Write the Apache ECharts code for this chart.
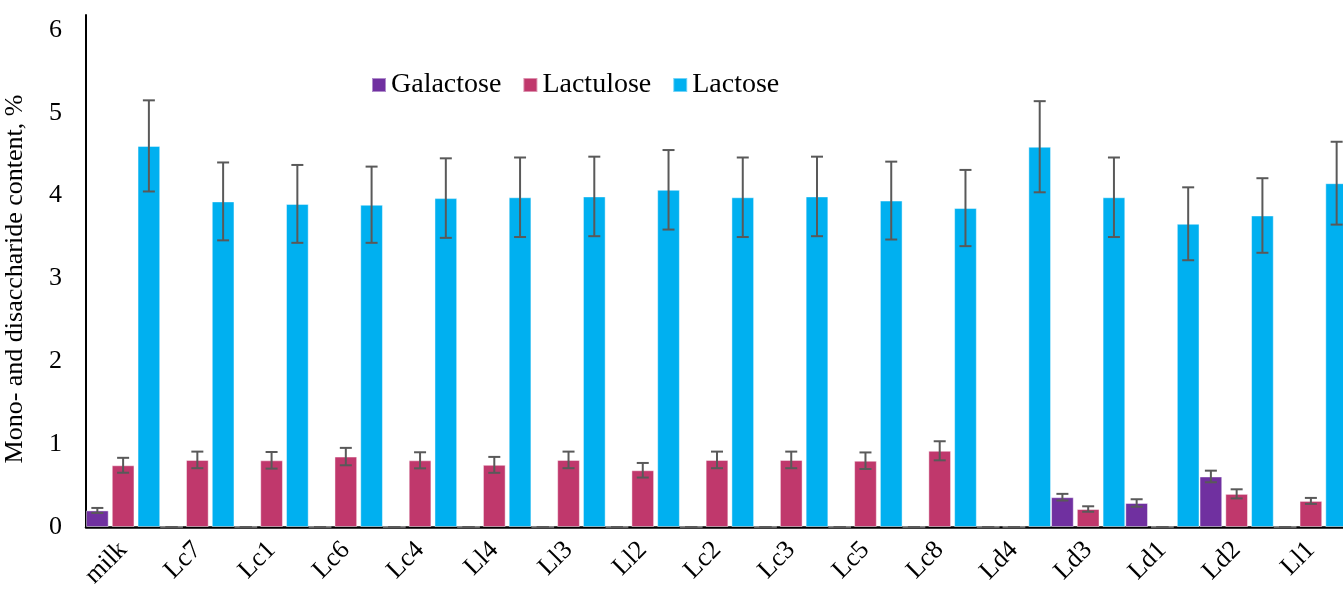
<!DOCTYPE html>
<html>
<head>
<meta charset="utf-8">
<script src="https://cdn.jsdelivr.net/npm/echarts@6/dist/echarts.min.js"></script>
<style>
  html, body { margin: 0; padding: 0; background: #fff; }
  #chart { width: 1343px; height: 592px; }
</style>
</head>
<body>
<div id="chart"></div>
<script>
const categories = ['milk', 'Lc7', 'Lc1', 'Lc6', 'Lc4', 'Ll4', 'Ll3', 'Ll2', 'Lc2', 'Lc3', 'Lc5', 'Lc8', 'Ld4', 'Ld3', 'Ld1', 'Ld2', 'Ll1']

const galactose = [0.20, 0, 0, 0, 0, 0, 0, 0, 0, 0, 0, 0, 0, 0.36, 0.29, 0.61, 0]
const galactoseErr = [0.03, 0, 0, 0, 0, 0, 0, 0, 0, 0, 0, 0, 0, 0.04, 0.045, 0.07, 0]

const lactulose = [0.745, 0.81, 0.805, 0.85, 0.805, 0.75, 0.81, 0.685, 0.81, 0.81, 0.80, 0.92, 0, 0.217, 0, 0.40, 0.315]
const lactuloseErr = [0.09, 0.10, 0.10, 0.105, 0.097, 0.096, 0.10, 0.088, 0.10, 0.10, 0.10, 0.115, 0, 0.033, 0, 0.055, 0.036]

const lactose = [4.60, 3.93, 3.90, 3.89, 3.97, 3.98, 3.99, 4.07, 3.98, 3.99, 3.94, 3.85, 4.59, 3.98, 3.66, 3.76, 4.15]
const lactoseErr = [0.55, 0.47, 0.47, 0.46, 0.48, 0.48, 0.48, 0.48, 0.48, 0.48, 0.47, 0.46, 0.55, 0.48, 0.44, 0.45, 0.50]

const seriesNames = ['Galactose', 'Lactulose', 'Lactose']
const seriesColors = ['#7030A0', '#C0386C', '#00B0F0']
const seriesValues = [galactose, lactulose, lactose]
const seriesErrors = [galactoseErr, lactuloseErr, lactoseErr]

const FONT = '"Liberation Serif", "Times New Roman", serif'
const BAR_RATIO = 0.3058   // bar width / category band
const GAP_RATIO = 0.135    // gap between bars / bar width

const chart = echarts.init(document.getElementById('chart'))

// error bars drawn next to the matching bar in each group
const errorSeries = (idx) => ({
  type: 'custom',
  name: seriesNames[idx] + ' err',
  z: 5,
  silent: true,
  data: seriesValues[idx].map((v, i) => [i, v - seriesErrors[idx][i], v + seriesErrors[idx][i]]),
  encode: { x: 0, y: [1, 2] },
  renderItem: (params, api) => {
    const band = api.size([1, 0])[0]
    const bw = band * BAR_RATIO
    const off = (idx - 1) * (bw * (1 + GAP_RATIO))
    const top = api.coord([api.value(0), api.value(2)])
    const bot = api.coord([api.value(0), Math.max(api.value(1), 0)])
    const x = top[0] + off
    const cap = 6
    const style = { stroke: '#595959', lineWidth: 2 }
    return {
      type: 'group',
      children: [
        { type: 'line', shape: { x1: x, y1: top[1], x2: x, y2: bot[1] }, style },
        { type: 'line', shape: { x1: x - cap, y1: top[1], x2: x + cap, y2: top[1] }, style },
        { type: 'line', shape: { x1: x - cap, y1: bot[1], x2: x + cap, y2: bot[1] }, style }
      ]
    }
  }
})

const barSeries = seriesNames.map((name, i) => ({
  name,
  type: 'bar',
  data: seriesValues[i],
  barWidth: (BAR_RATIO * 100) + '%',
  barGap: (GAP_RATIO * 100) + '%',
  itemStyle: { color: seriesColors[i], borderColor: 'rgba(255,255,255,0.45)', borderWidth: 1 }
}))

chart.setOption({
  animation: false,
  grid: { left: 86, top: 15, width: 1262, height: 512, outerBoundsMode: 'none', containLabel: false },
  legend: {
    data: seriesNames,
    left: 371,
    top: 71,
    padding: 0,
    icon: 'rect',
    itemWidth: 14,
    itemHeight: 14,
    itemGap: 21,
    textStyle: { fontFamily: FONT, fontSize: 28, color: '#000' }
  },
  xAxis: {
    type: 'category',
    data: categories,
    axisLine: { lineStyle: { color: '#000', width: 2.5 } },
    axisTick: { show: false },
    axisLabel: { rotate: 45, margin: 19, interval: 0, fontFamily: FONT, fontSize: 26, color: '#000' }
  },
  yAxis: {
    type: 'value',
    min: 0,
    max: 6.18,
    interval: 1,
    name: 'Mono- and disaccharide content, %',
    nameLocation: 'middle',
    nameGap: 58,
    nameTextStyle: { fontFamily: FONT, fontSize: 26, color: '#000', padding: [0, 0, 0, -16] },
    axisLine: { show: true, lineStyle: { color: '#000', width: 2 } },
    axisTick: { show: false },
    splitLine: { show: false },
    axisLabel: {
      margin: 24,
      fontFamily: FONT,
      fontSize: 26,
      color: '#000',
      formatter: (v) => (Number.isInteger(v) ? String(v) : '')
    }
  },
  series: [...barSeries, errorSeries(0), errorSeries(1), errorSeries(2)]
})
</script>
</body>
</html>
